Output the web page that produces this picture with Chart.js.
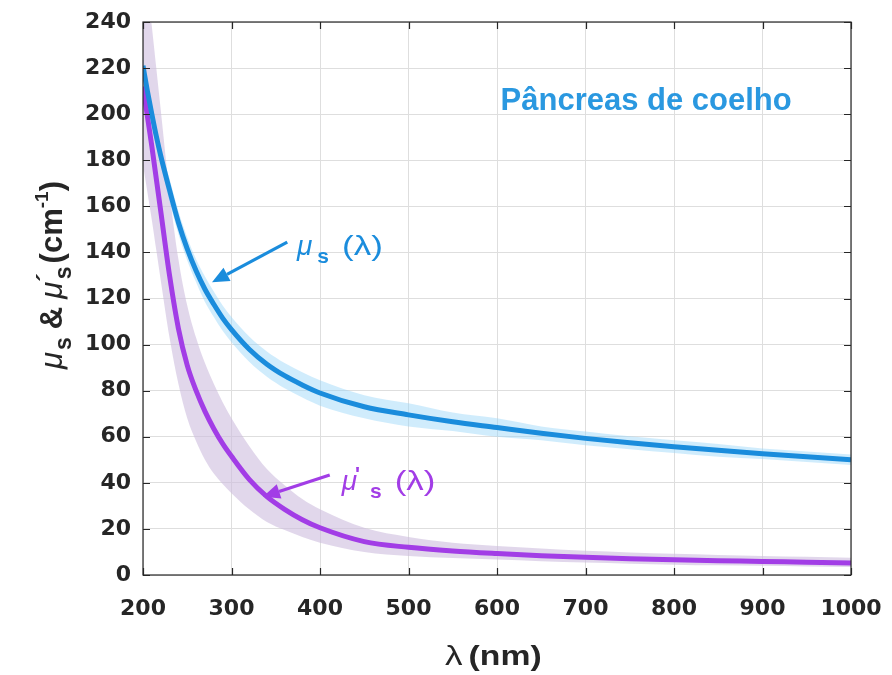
<!DOCTYPE html>
<html>
<head>
<meta charset="utf-8">
<script src="https://cdn.jsdelivr.net/npm/chart.js@4.4.0/dist/chart.umd.min.js"></script>
<style>
  html, body { margin: 0; padding: 0; background: #fff; }
  #wrap { width: 892px; height: 675px; }
</style>
</head>
<body>
<div id="wrap"><canvas id="myChart"></canvas></div>
<script>
// wavelengths (nm)
var lambda = [200, 205, 210, 215, 220, 230, 240, 250, 260, 270, 280, 290, 300, 320, 340, 360, 380, 400, 450, 500, 550, 600, 650, 700, 750, 800, 850, 900, 950, 1000];

// mu_s (cm-1), mean and band
var muS   = [221, 210, 200, 190.5, 182, 167, 153, 141.5, 132, 124, 117.5, 111.5, 106.5, 98, 91.5, 86.5, 82.5, 79, 73, 69.5, 66.5, 64, 61.5, 59.3, 57.4, 55.7, 54.1, 52.6, 51.3, 50];
var muSHi = [225, 214, 204, 194.5, 186, 172, 158, 146.5, 137, 129.5, 123, 117, 112, 103.5, 97, 92, 88, 84.5, 78, 74.5, 70.5, 68, 64.5, 62.3, 60.2, 58.5, 56.9, 54.9, 53.6, 52.3];
var muSLo = [217, 206, 196, 186.5, 178, 162, 148, 136.5, 127, 118.5, 112, 106, 101, 92.5, 86, 81, 77, 73.5, 68, 64.5, 62.5, 60, 58.5, 56.3, 54.6, 52.9, 51.3, 50.3, 49, 47.7];

// mu'_s (cm-1), mean and band
var muSp   = [212, 199, 186, 172, 158, 130, 107, 91, 80, 71, 63.5, 57, 51.5, 41.5, 34, 28.5, 24, 20.5, 14.5, 12, 10.4, 9.3, 8.4, 7.7, 7.1, 6.6, 6.2, 5.9, 5.5, 5.2];
var muSpHi = [271, 255, 238, 220, 202, 166, 137, 117, 103, 92, 83, 75, 68, 56, 46, 39, 33, 28.5, 20.5, 16.5, 14, 12.6, 11.5, 10.5, 9.8, 9.2, 8.7, 8.3, 7.9, 7.5];
var muSpLo = [178, 166, 154, 141, 128, 103, 83, 68, 58, 50, 44, 39.5, 35.5, 28.5, 23, 19.5, 16.5, 14, 10, 8.3, 7.4, 6.7, 6, 5.4, 4.9, 4.5, 4.2, 4, 3.7, 3.5];

var xMin = 200, xMax = 1000, xStep = 100;
var yMin = 0, yMax = 240, yStep = 20;

var blue = '#1a8cdc';
var purple = '#a23de6';
var inkColor = '#262626';
var fam = '"Liberation Sans", Arial, sans-serif';

function pts(arr) {
  return lambda.map(function (x, i) { return { x: x, y: arr[i] }; });
}

// draws a row of text pieces (normal, sub, super); sx stretches a piece sideways
function drawPieces(ctx, pieces, x, y, measureOnly) {
  var cx = x;
  pieces.forEach(function (p) {
    ctx.font = p.font;
    var sx = p.sx || 1;
    var pw = ctx.measureText(p.t).width * sx;
    if (!measureOnly) {
      ctx.save();
      ctx.translate(cx, y + (p.dy || 0));
      ctx.scale(sx, 1);
      ctx.fillText(p.t, 0, 0);
      ctx.restore();
    }
    cx += pw + (p.gap || 0);
  });
  return cx - x;
}

function arrow(ctx, x1, y1, x2, y2, color) {
  var ang = Math.atan2(y2 - y1, x2 - x1);
  var head = 17, hw = 7.5;
  var bx = x2 - head * Math.cos(ang), by = y2 - head * Math.sin(ang);
  ctx.strokeStyle = color;
  ctx.fillStyle = color;
  ctx.lineWidth = 3.2;
  ctx.beginPath();
  ctx.moveTo(x1, y1);
  ctx.lineTo(bx, by);
  ctx.stroke();
  ctx.beginPath();
  ctx.moveTo(x2, y2);
  ctx.lineTo(bx + hw * Math.sin(ang), by - hw * Math.cos(ang));
  ctx.lineTo(bx - hw * Math.sin(ang), by + hw * Math.cos(ang));
  ctx.closePath();
  ctx.fill();
}

var extras = {
  id: 'extras',
  afterDraw: function (chart) {
    var ctx = chart.ctx;
    var a = chart.chartArea;
    var xs = chart.scales.x, ys = chart.scales.y;
    ctx.save();

    // box and inward ticks
    ctx.strokeStyle = inkColor;
    ctx.lineWidth = 1.2;
    ctx.strokeRect(a.left, a.top, a.right - a.left, a.bottom - a.top);
    ctx.beginPath();
    for (var v = xMin; v <= xMax; v += xStep) {
      var px = Math.round(xs.getPixelForValue(v)) + 0.5;
      ctx.moveTo(px, a.bottom); ctx.lineTo(px, a.bottom - 7);
      ctx.moveTo(px, a.top); ctx.lineTo(px, a.top + 7);
    }
    for (var w = yMin; w <= yMax; w += yStep) {
      var py = Math.round(ys.getPixelForValue(w)) + 0.5;
      ctx.moveTo(a.left, py); ctx.lineTo(a.left + 7, py);
      ctx.moveTo(a.right, py); ctx.lineTo(a.right - 7, py);
    }
    ctx.stroke();

    ctx.textBaseline = 'alphabetic';
    ctx.textAlign = 'left';

    // tissue label
    ctx.fillStyle = '#2a98e0';
    ctx.font = 'bold 31px ' + fam;
    ctx.fillText('Pâncreas de coelho', xs.getPixelForValue(604), ys.getPixelForValue(202));

    // mu_s annotation
    arrow(ctx, xs.getPixelForValue(363), ys.getPixelForValue(144.5), xs.getPixelForValue(278), ys.getPixelForValue(127), blue);
    ctx.fillStyle = blue;
    drawPieces(ctx, [
      { t: 'μ', font: 'italic 28px ' + fam, gap: 5 },
      { t: 's', font: 'bold 21px ' + fam, dy: 8, gap: 13 },
      { t: '(λ)', font: '28px ' + fam, sx: 1.25 }
    ], xs.getPixelForValue(374), ys.getPixelForValue(139));

    // mu'_s annotation
    arrow(ctx, xs.getPixelForValue(411), ys.getPixelForValue(43.4), xs.getPixelForValue(335.5), ys.getPixelForValue(34), purple);
    ctx.fillStyle = purple;
    drawPieces(ctx, [
      { t: 'μ', font: 'italic 28px ' + fam, gap: -2 },
      { t: "'", font: 'bold 21px ' + fam, dy: -9, gap: 10 },
      { t: 's', font: 'bold 21px ' + fam, dy: 8, gap: 13 },
      { t: '(λ)', font: '28px ' + fam, sx: 1.25 }
    ], xs.getPixelForValue(424.5), ys.getPixelForValue(37));

    // y axis title, rotated
    ctx.fillStyle = inkColor;
    var yPieces = [
      { t: 'μ', font: 'italic 31px ' + fam, gap: 2 },
      { t: 's', font: 'bold 23px ' + fam, dy: 9, gap: 8 },
      { t: '&', font: 'bold 31px ' + fam, gap: 8 },
      { t: 'μ', font: 'italic 31px ' + fam, gap: 0 },
      { t: '´', font: 'bold 26px ' + fam, dy: -7, gap: -6 },
      { t: 's', font: 'bold 23px ' + fam, dy: 9, gap: 3 },
      { t: '(cm', font: 'bold 31px ' + fam },
      { t: '-1', font: 'bold 19px ' + fam, dy: -14 },
      { t: ')', font: 'bold 31px ' + fam }
    ];
    var tw = drawPieces(ctx, yPieces, 0, 0, true);
    ctx.translate(62, 275);
    ctx.rotate(-Math.PI / 2);
    drawPieces(ctx, yPieces, -tw / 2, 0);
    ctx.restore();

    // x axis title
    ctx.save();
    ctx.fillStyle = inkColor;
    ctx.textBaseline = 'alphabetic';
    drawPieces(ctx, [
      { t: 'λ', font: '27px ' + fam, sx: 1.3, gap: 6 },
      { t: '(nm)', font: 'bold 27px ' + fam, sx: 1.25 }
    ], 445, 665);
    ctx.restore();
  }
};

var ctx = document.getElementById('myChart');

var myChart = new Chart(ctx, {
  type: 'line',
  data: {
    datasets: [
      { label: 'mu_s', data: pts(muS), borderColor: blue, borderWidth: 5, pointRadius: 0, fill: false, cubicInterpolationMode: 'monotone' },
      { label: "mu'_s", data: pts(muSp), borderColor: purple, borderWidth: 5, pointRadius: 0, fill: false, cubicInterpolationMode: 'monotone' },
      { label: 'mu_s hi', data: pts(muSHi), borderWidth: 0, borderColor: 'transparent', pointRadius: 0, fill: '+1', backgroundColor: 'rgba(150, 212, 248, 0.45)', cubicInterpolationMode: 'monotone' },
      { label: 'mu_s lo', data: pts(muSLo), borderWidth: 0, borderColor: 'transparent', pointRadius: 0, fill: false, cubicInterpolationMode: 'monotone' },
      { label: "mu'_s hi", data: pts(muSpHi), borderWidth: 0, borderColor: 'transparent', pointRadius: 0, fill: '+1', backgroundColor: 'rgba(205, 188, 222, 0.6)', cubicInterpolationMode: 'monotone' },
      { label: "mu'_s lo", data: pts(muSpLo), borderWidth: 0, borderColor: 'transparent', pointRadius: 0, fill: false, cubicInterpolationMode: 'monotone' }
    ]
  },
  options: {
    responsive: true,
    maintainAspectRatio: false,
    animation: false,
    layout: { padding: { top: 22, right: 41, left: 0, bottom: 0 } },
    plugins: {
      legend: { display: false },
      tooltip: { enabled: false }
    },
    scales: {
      x: {
        type: 'linear',
        min: xMin,
        max: xMax,
        afterFit: function (s) {
          s.height = 100;
          s.paddingLeft = 0;
          s.paddingRight = 0;
        },
        ticks: {
          stepSize: xStep,
          color: inkColor,
          padding: 21,
          font: { family: 'DejaVu Sans', weight: 'bold', size: 22 },
          callback: function (v) { return String(v); }
        },
        grid: { color: '#dedede', lineWidth: 1, drawTicks: false },
        border: { display: false }
      },
      y: {
        min: yMin,
        max: yMax,
        afterFit: function (s) {
          s.width = 143;
          s.paddingTop = 0;
          s.paddingBottom = 0;
        },
        ticks: {
          stepSize: yStep,
          color: inkColor,
          padding: 12,
          font: { family: 'DejaVu Sans', weight: 'bold', size: 22 },
          callback: function (v) { return String(v); }
        },
        grid: { color: '#dedede', lineWidth: 1, drawTicks: false },
        border: { display: false }
      }
    }
  },
  plugins: [extras]
});
</script>
</body>
</html>
